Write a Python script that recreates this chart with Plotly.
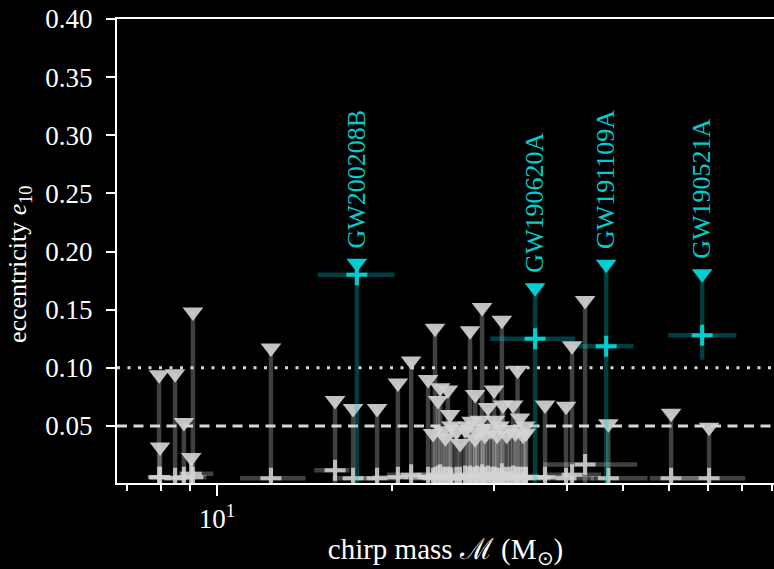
import math
import plotly.graph_objects as go

# ---- data ----
# background events
chirp_mass = [7.95, 7.98, 8.47, 8.77, 9.09, 9.03, 12.38, 15.96, 17.14, 18.85,
              20.47, 21.57, 23.07, 23.71, 23.99, 24.2, 24.95, 25.17, 23.53, 24.47,
              26.18, 27.24, 27.42, 27.8, 28.57, 27.79, 28.33, 28.9, 29.25, 29.96,
              30.07, 30.32, 30.9, 31.04, 31.5, 32.3, 32.88, 33.2, 33.6, 36.66,
              39.84, 40.8, 42.96, 47.1, 60.4, 70.2, 25.8, 26.7, 29.6, 31.9,
              34.0, 28.0, 25.3, 27.0, 28.7, 30.6, 32.6, 33.9, 24.7]
mass_lower = [7.6, 7.7, 8.1, 8.4, 8.7, 8.6, 10.95, 14.7, 15.8, 17.2,
              18.5, 19.6, 21.0, 21.4, 21.8, 22.0, 22.6, 22.9, 21.5, 22.3,
              23.8, 24.6, 24.9, 25.1, 25.9, 25.2, 25.6, 26.1, 26.4, 27.0,
              27.2, 27.5, 27.9, 28.1, 28.5, 29.2, 29.7, 30.0, 30.4, 33.0,
              35.5, 36.4, 36.4, 43.9, 55.5, 63.0, 23.4, 24.2, 26.8, 28.9,
              30.8, 25.4, 23.0, 24.5, 26.0, 27.8, 29.6, 30.6, 22.5]
mass_upper = [8.4, 8.3, 8.9, 9.2, 9.6, 9.85, 14.2, 16.9, 18.7, 20.6,
              22.6, 23.5, 25.4, 26.2, 26.5, 26.8, 27.6, 27.9, 25.8, 27.0,
              28.9, 30.2, 30.4, 30.8, 31.6, 30.7, 31.3, 32.0, 32.5, 33.2,
              33.3, 33.6, 34.2, 34.4, 34.9, 35.8, 36.4, 36.8, 37.3, 40.8,
              44.5, 45.8, 52.8, 55.0, 67.6, 81.0, 28.5, 29.5, 32.7, 35.2,
              37.6, 31.0, 27.9, 29.8, 31.7, 33.8, 36.0, 37.5, 27.2]
ecc_median = [0.006, 0.006, 0.005, 0.006, 0.006, 0.009, 0.005, 0.012, 0.005, 0.005,
              0.006, 0.008, 0.006, 0.006, 0.007, 0.008, 0.006, 0.006, 0.005, 0.006,
              0.006, 0.007, 0.006, 0.006, 0.008, 0.005, 0.006, 0.006, 0.007, 0.006,
              0.006, 0.005, 0.009, 0.006, 0.006, 0.007, 0.006, 0.006, 0.006, 0.006,
              0.005, 0.008, 0.017, 0.005, 0.005, 0.005, 0.006, 0.007, 0.006, 0.006,
              0.006, 0.007, 0.005, 0.006, 0.006, 0.005, 0.006, 0.005, 0.006]
ecc_lower = [0.0] * len(chirp_mass)
ecc_upper = [0.094, 0.032, 0.095, 0.053, 0.148, 0.023, 0.117, 0.072, 0.065, 0.065,
             0.087, 0.106, 0.090, 0.134, 0.072, 0.083, 0.081, 0.060, 0.0435, 0.046,
             0.035, 0.132, 0.054, 0.077, 0.152, 0.039, 0.055, 0.042, 0.066, 0.081,
             0.055, 0.042, 0.141, 0.068, 0.042, 0.068, 0.098, 0.057, 0.042, 0.068,
             0.067, 0.119, 0.158, 0.052, 0.061, 0.049, 0.045, 0.047, 0.046, 0.047,
             0.044, 0.045, 0.050, 0.050, 0.048, 0.050, 0.044, 0.050, 0.040]

# highlighted events
hl_names = ["GW200208B", "GW190620A", "GW191109A", "GW190521A"]
hl_mass = [17.4, 35.24, 46.7, 68.3]
hl_mass_lower = [14.9, 29.5, 41.7, 59.7]
hl_mass_upper = [20.2, 41.3, 52.0, 78.2]
hl_ecc_median = [0.180, 0.125, 0.1186, 0.128]
hl_ecc_lower = [0.0, 0.0, 0.0, 0.107]
hl_ecc_upper = [0.190, 0.169, 0.189, 0.181]

# axis ticks
y_ticks = [0.05, 0.10, 0.15, 0.20, 0.25, 0.30, 0.35, 0.40]
x_major = [10]
x_minor = [7, 8, 9, 20, 30, 40, 50, 60, 70, 80, 90]

GRAY_A = "rgba(211,211,211,0.30)"
CYAN = "rgb(0,206,209)"
CYAN_A = "rgba(0,206,209,0.30)"
FONT = "Liberation Serif"


def diffs(center, lo, hi):
    return ([h - c for c, h in zip(center, hi)], [c - l for c, l in zip(center, lo)])


fig = go.Figure()

# background events: error bars + plus markers
ex_p, ex_m = diffs(chirp_mass, mass_lower, mass_upper)
ey_p, ey_m = diffs(ecc_median, ecc_lower, ecc_upper)
fig.add_trace(go.Scatter(
    x=chirp_mass, y=ecc_median, mode="markers",
    marker=dict(symbol="cross-thin", size=15, line=dict(width=4, color="rgba(211,211,211,0.85)")),
    error_x=dict(type="data", symmetric=False, array=ex_p, arrayminus=ex_m,
                 color=GRAY_A, thickness=4.5, width=0),
    error_y=dict(type="data", symmetric=False, array=ey_p, arrayminus=ey_m,
                 color=GRAY_A, thickness=4.5, width=0),
    showlegend=False, hoverinfo="skip"))

fig.add_trace(go.Scatter(
    x=chirp_mass, y=ecc_upper, mode="markers",
    marker=dict(symbol="triangle-down", size=18, color="rgba(211,211,211,0.92)",
                line=dict(width=0)),
    showlegend=False, hoverinfo="skip"))

# highlighted events
hx_p, hx_m = diffs(hl_mass, hl_mass_lower, hl_mass_upper)
hy_p, hy_m = diffs(hl_ecc_median, hl_ecc_lower, hl_ecc_upper)
fig.add_trace(go.Scatter(
    x=hl_mass, y=hl_ecc_median, mode="markers",
    marker=dict(symbol="cross-thin", size=15, line=dict(width=4, color=CYAN)),
    error_x=dict(type="data", symmetric=False, array=hx_p, arrayminus=hx_m,
                 color=CYAN_A, thickness=4.5, width=0),
    error_y=dict(type="data", symmetric=False, array=hy_p, arrayminus=hy_m,
                 color=CYAN_A, thickness=4.5, width=0),
    showlegend=False, hoverinfo="skip"))

fig.add_trace(go.Scatter(
    x=hl_mass, y=hl_ecc_upper, mode="markers",
    marker=dict(symbol="triangle-down", size=18, color=CYAN, line=dict(width=0)),
    showlegend=False, hoverinfo="skip"))

for name, m, e in zip(hl_names, hl_mass, hl_ecc_upper):
    fig.add_annotation(x=math.log10(m), y=e, xref="x", yref="y", text=name, showarrow=False,
                       textangle=-90, xanchor="center", yanchor="bottom", yshift=13,
                       font=dict(family=FONT, size=26, color=CYAN))

# y-axis title as a rotated annotation
fig.add_annotation(xref="paper", yref="paper", x=-0.149, y=0.50, yshift=-13,
                   text="eccentricity <i>e</i><sub>10</sub>", showarrow=False,
                   textangle=-90, xanchor="center", yanchor="middle",
                   font=dict(family=FONT, size=26, color="white"))

# reference lines
fig.add_shape(type="line", xref="paper", yref="y", x0=0, x1=1, y0=0.10, y1=0.10,
              line=dict(color="rgb(215,215,215)", width=3, dash="3px,7.5px"), layer="below")
fig.add_shape(type="line", xref="paper", yref="y", x0=0, x1=1, y0=0.05, y1=0.05,
              line=dict(color="rgb(215,215,215)", width=3, dash="10px,6.5px"), layer="below")

fig.update_layout(
    width=774, height=569,
    margin=dict(l=117, r=0, t=19, b=86, pad=0),
    paper_bgcolor="black", plot_bgcolor="black",
    font=dict(family=FONT, size=27, color="white"),
    xaxis=dict(
        type="log", range=[0.82797, 1.958],
        showgrid=False, zeroline=False,
        showline=True, linecolor="white", linewidth=2, mirror=True,
        tickmode="array", tickvals=x_major, ticktext=["10<sup>1</sup>"],
        ticks="outside", ticklen=11, tickwidth=2, tickcolor="white",
        tickfont=dict(family=FONT, size=27, color="white"),
        minor=dict(tickmode="array", tickvals=x_minor, ticks="outside",
                   ticklen=6, tickwidth=1.5, tickcolor="white", showgrid=False),
        title=dict(text="chirp mass ℳ (M<sub>⊙</sub>)", standoff=6,
                   font=dict(family=FONT, size=29, color="white")),
    ),
    yaxis=dict(
        range=[0.001, 0.40],
        showgrid=False, zeroline=False,
        showline=True, linecolor="white", linewidth=2, mirror=False,
        tickmode="array", tickvals=y_ticks,
        ticktext=[f"{v:.2f}" for v in y_ticks],
        ticks="outside", ticklen=9, tickwidth=2, tickcolor="white",
        ticklabelstandoff=8,
        tickfont=dict(family=FONT, size=27, color="white"),
    ),
)

fig.write_html("out.html")
